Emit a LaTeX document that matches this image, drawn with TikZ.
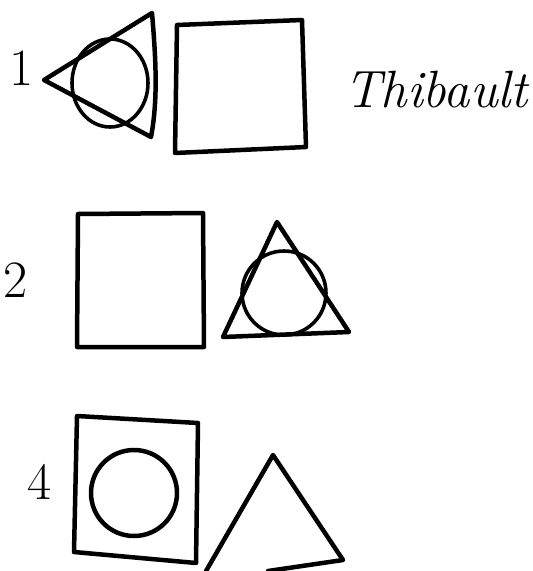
\documentclass[tikz,border=0pt]{standalone}
\usepackage{tikz}
\usetikzlibrary{positioning}
\definecolor{ink}{RGB}{0,0,0}
\tikzset{
  pen/.style={draw=ink,line width=4.8pt,line join=round,line cap=round},
  thinpen/.style={pen,line width=3.8pt},
  num/.style={font=\fontsize{56}{60}\selectfont,inner sep=0pt,text=ink},
  sig/.style={font=\fontsize{56}{60}\selectfont\itshape,inner sep=0pt,text=ink},
}

\begin{document}
\begin{tikzpicture}[x=0.0375cm,y=-0.0375cm]
  \useasboundingbox (0,0) rectangle (533,571);
  % row 1
  \node[num] (num1) at (22,68) {1};
  \draw[pen] (44,80) -- (152,13) .. controls (156,60) and (158,100) .. (151,137) -- cycle;
  \draw[thinpen] (110,83) ellipse [x radius=38,y radius=44];
  \draw[pen] (177,25) -- (302,20) -- (306,147) -- (175,153) -- cycle;
  \node[sig] (name) at (436,90) {Thibault};
  % row 2
  \node[num] (num2) at (16,280) {2};
  \draw[pen] (78,214) -- (203,213) -- (204,347) -- (77,347) -- cycle;
  \draw[pen] (277,222) -- (349,332) -- (223,337) -- cycle;
  \draw[thinpen] (284,293) circle [radius=42];
  % row 3
  \node[num] (num4) at (40,482) {4};
  \draw[pen] (77,416) -- (198,423) -- (196,563) -- (74,552) -- cycle;
  \draw[pen] (134,493) circle [radius=43];
  \draw[pen] (206,571) -- (273,455) -- (343,560) -- (268,571);
\end{tikzpicture}
\end{document}
